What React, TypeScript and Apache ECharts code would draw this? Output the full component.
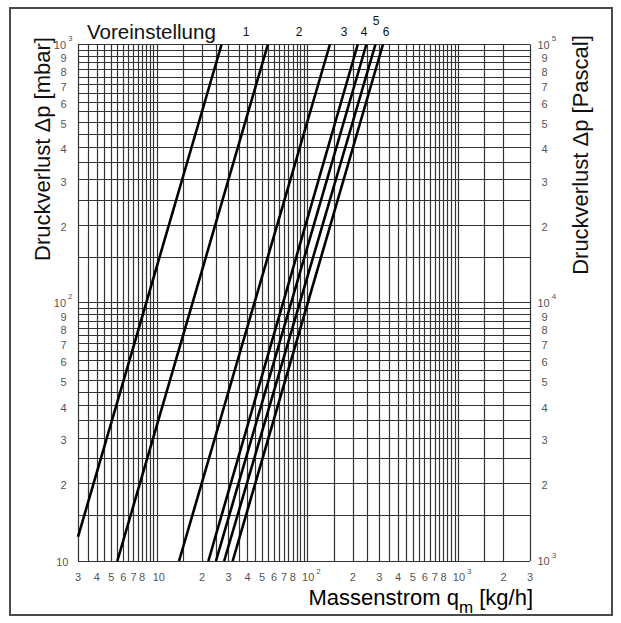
import React, { useEffect, useRef } from 'react';
import * as echarts from 'echarts';

// Grid line positions (kg/h and mbar)
const xGridLines = [3, 3.5, 4, 4.5, 5, 5.5, 6, 6.5, 7, 7.5, 8, 8.5, 9, 9.5, 10,
  15, 20, 25, 30, 35, 40, 45, 50, 55, 60, 65, 70, 75, 80, 85, 90, 95, 100,
  150, 200, 250, 300, 350, 400, 450, 500, 550, 600, 650, 700, 750, 800, 850, 900, 950, 1000,
  1500, 2000, 3000];
const yGridLines = [10, 15, 20, 25, 30, 35, 40, 45, 50, 55, 60, 65, 70, 75, 80, 85, 90, 95, 100,
  150, 200, 250, 300, 350, 400, 450, 500, 550, 600, 650, 700, 750, 800, 850, 900, 950, 1000];

// Tick labels ("10^2" = 10 with superscript 2)
const xTickValues = [3, 4, 5, 6, 7, 8, 10, 20, 30, 40, 50, 60, 70, 80, 100, 200, 300, 400, 500, 600, 700, 800, 1000, 2000, 3000];
const xTickTexts = ['3', '4', '5', '6', '7', '8', '10', '2', '3', '4', '5', '6', '7', '8', '10^2', '2', '3', '4', '5', '6', '7', '8', '10^3', '2', '3'];
const yTickValues = [10, 20, 30, 40, 50, 60, 70, 80, 90, 100, 200, 300, 400, 500, 600, 700, 800, 900, 1000];
const yLeftTexts = ['10', '2', '3', '4', '5', '6', '7', '8', '9', '10^2', '2', '3', '4', '5', '6', '7', '8', '9', '10^3'];
const yRightTexts = ['10^3', '2', '3', '4', '5', '6', '7', '8', '9', '10^4', '2', '3', '4', '5', '6', '7', '8', '9', '10^5'];

// Curves (Voreinstellung), endpoints: [q kg/h, dp mbar]
const curveNames = ['Kurve a', 'Kurve b', 'Kurve c', 'Kurve d', 'Kurve e', 'Kurve f', 'Kurve g'];
const curveStartQ = [3, 5.47, 14.05, 22.0, 24.7, 28.0, 31.9];
const curveStartDp = [12.4, 10, 10, 10, 10, 10, 10];
const curveEndQ = [26.9, 54.6, 140.9, 215.7, 246, 282.6, 317];
const curveEndDp = [1000, 1000, 1000, 1000, 1000, 1000, 1000];

const presetLabels = ['1', '2', '3', '4', '5', '6'];

const FONT = '"Liberation Sans", Arial, Helvetica, sans-serif';
const TICK_COLOR = '#222';

const toRich = (t: string) => {
  const parts = t.split('^');
  return parts.length > 1 ? `{n|${parts[0]}}{s|${parts[1]}}` : `{n|${t}}`;
};
const isPow = (t: string) => t.indexOf('^') >= 0;

export default function App() {
  const ref = useRef<HTMLDivElement>(null);

  useEffect(() => {
    if (!ref.current) return;
    const chart = echarts.init(ref.current, undefined, { renderer: 'svg' });

    const tickRich = {
      n: { fontSize: 11, lineHeight: 20, color: TICK_COLOR, fontFamily: FONT },
      s: { fontSize: 8, lineHeight: 8, verticalAlign: 'top', padding: [0, 0, 0, 2], color: TICK_COLOR, fontFamily: FONT },
    };
    const baseLabel = {
      show: true,
      fontSize: 11,
      lineHeight: 20,
      color: TICK_COLOR,
      fontFamily: FONT,
      rich: tickRich,
    };

    const labelPresetX = [246, 299, 344, 364, 376, 386];
    const labelPresetY = [32, 32, 32, 32, 21, 32];

    const option: any = {
      animation: false,
      grid: { left: 78, top: 44.5, width: 452, height: 516.5, containLabel: false },
      xAxis: {
        type: 'log', logBase: 10, min: 3, max: 3000,
        axisLine: { show: false }, axisTick: { show: false }, axisLabel: { show: false }, splitLine: { show: false },
      },
      yAxis: {
        type: 'log', logBase: 10, min: 10, max: 1000,
        axisLine: { show: false }, axisTick: { show: false }, axisLabel: { show: false }, splitLine: { show: false },
      },
      graphic: [
        { type: 'rect', shape: { x: 10, y: 8, width: 602, height: 607 }, style: { fill: 'none', stroke: '#4a4a4a', lineWidth: 2 }, silent: true },
        {
          type: 'text', x: 87, y: 31,
          style: { text: 'Voreinstellung', font: `20.5px ${FONT}`, fill: '#111', textAlign: 'left', textVerticalAlign: 'middle', align: 'left', verticalAlign: 'middle' },
        },
        ...presetLabels.map((t, i) => ({
          type: 'text', x: labelPresetX[i], y: labelPresetY[i],
          style: { text: t, font: `12px ${FONT}`, fill: '#111', textAlign: 'center', textVerticalAlign: 'middle', align: 'center', verticalAlign: 'middle' },
        })),
        {
          type: 'text', x: 42, y: 149, rotation: Math.PI / 2,
          style: { text: 'Druckverlust Δp [mbar]', font: `22px ${FONT}`, fill: '#111', textAlign: 'center', textVerticalAlign: 'middle', align: 'center', verticalAlign: 'middle' },
        },
        {
          type: 'text', x: 580, y: 155, rotation: Math.PI / 2,
          style: { text: 'Druckverlust Δp [Pascal]', font: `22px ${FONT}`, fill: '#111', textAlign: 'center', textVerticalAlign: 'middle', align: 'center', verticalAlign: 'middle' },
        },
        {
          type: 'text', x: 533, y: 601,
          style: {
            text: '{a|Massenstrom q}{b|m}{a| [kg/h]}',
            rich: {
              a: { fontSize: 22, fontFamily: FONT, color: '#111', lineHeight: 30, verticalAlign: 'top' },
              b: { fontSize: 17, fontFamily: FONT, color: '#111', lineHeight: 30, verticalAlign: 'bottom' },
            },
            textAlign: 'right', textVerticalAlign: 'middle', align: 'right', verticalAlign: 'middle',
          },
        },
      ],
      series: [
        {
          name: 'grid',
          type: 'line',
          data: [[3, 10]],
          showSymbol: false,
          symbol: 'none',
          silent: true,
          lineStyle: { width: 0 },
          markLine: {
            silent: true,
            symbol: ['none', 'none'],
            label: { show: false },
            lineStyle: { color: '#333', width: 1.2, type: 'solid' },
            emphasis: { disabled: true },
            data: [
              ...xGridLines.map((v) => ({ xAxis: v })),
              ...yGridLines.map((v) => ({ yAxis: v })),
            ],
          },
        },
        ...curveNames.map((n, i) => ({
          name: n,
          type: 'line',
          z: 5,
          symbol: 'none',
          silent: true,
          lineStyle: { color: '#000', width: 2.6 },
          data: [[curveStartQ[i], curveStartDp[i]], [curveEndQ[i], curveEndDp[i]]],
        })),
        {
          name: 'xTicks',
          type: 'scatter',
          symbolSize: 1,
          clip: false,
          silent: true,
          itemStyle: { color: 'rgba(255,255,255,0)' },
          label: { ...baseLabel, position: 'bottom', distance: 5.5 },
          data: xTickValues.map((v, i) => ({
            value: [v, 10],
            label: {
              ...baseLabel,
              position: 'bottom', distance: 5.5,
              formatter: toRich(xTickTexts[i]),
              offset: isPow(xTickTexts[i]) ? [4, 0] : (xTickTexts[i] === '10' ? [2, 0] : [0, 0]),
            },
          })),
        },
        {
          name: 'yLeftTicks',
          type: 'scatter',
          symbolSize: 1,
          clip: false,
          silent: true,
          itemStyle: { color: 'rgba(255,255,255,0)' },
          label: { ...baseLabel, position: 'left', distance: 11 },
          data: yTickValues.map((v, i) => ({
            value: [3, v],
            label: {
              ...baseLabel,
              position: 'left', distance: 11,
              formatter: toRich(yLeftTexts[i]),
              offset: isPow(yLeftTexts[i]) ? [6, 0] : (yLeftTexts[i] === '10' ? [2, 1] : [0, 2]),
            },
          })),
        },
        {
          name: 'yRightTicks',
          type: 'scatter',
          symbolSize: 1,
          clip: false,
          silent: true,
          itemStyle: { color: 'rgba(255,255,255,0)' },
          label: { ...baseLabel, position: 'right', distance: 7 },
          data: yTickValues.map((v, i) => ({
            value: [3000, v],
            label: {
              ...baseLabel,
              position: 'right', distance: 7,
              formatter: toRich(yRightTexts[i]),
              offset: isPow(yRightTexts[i]) ? [0, 0] : [4, 2],
            },
          })),
        },
      ],
    };

    chart.setOption(option);
    return () => chart.dispose();
  }, []);

  return (
    <div
      ref={ref}
      style={{ position: 'absolute', left: 0, top: 0, width: 621, height: 623, background: '#fff' }}
    />
  );
}
